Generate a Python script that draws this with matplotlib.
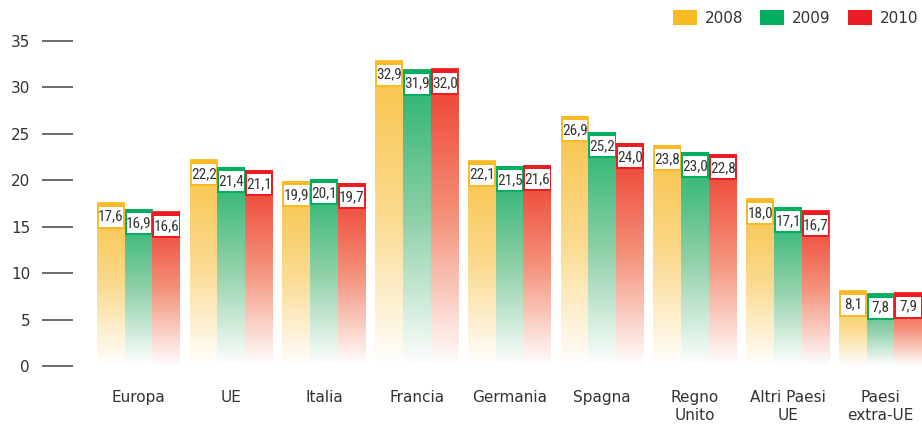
import numpy as np
import matplotlib
matplotlib.use("Agg")
import matplotlib.pyplot as plt
from matplotlib.colors import LinearSegmentedColormap
from matplotlib.patches import Rectangle, Patch
from matplotlib import font_manager

plt.rcParams["font.family"] = ["DejaVu Sans"]

# ── Data ───────────────────────────────────────────────────────────────
categories = ["Europa", "UE", "Italia", "Francia", "Germania", "Spagna",
              "Regno\nUnito", "Altri Paesi\nUE", "Paesi\nextra-UE"]
years = ["2008", "2009", "2010"]
values_2008 = [17.6, 22.2, 19.9, 32.9, 22.1, 26.9, 23.8, 18.0, 8.1]
values_2009 = [16.9, 21.4, 20.1, 31.9, 21.5, 25.2, 23.0, 17.1, 7.8]
values_2010 = [16.6, 21.1, 19.7, 32.0, 21.6, 24.0, 22.8, 16.7, 7.9]
series = [values_2008, values_2009, values_2010]
y_ticks = [0, 5, 10, 15, 20, 25, 30, 35]

# ── Styles ─────────────────────────────────────────────────────────────
# (cap colour, gradient top, gradient middle)
styles = [
    ("#F9BA24", "#F8C346", "#FBDA8E"),
    ("#00AF5F", "#22B26E", "#8ED0A8"),
    ("#EC1C24", "#EE3A2C", "#F4927A"),
]
text_col = "#333333"

# condensed face for the value boxes, if one is installed
names = {f.name for f in font_manager.fontManager.ttflist}
label_font, label_size = "Liberation Sans", 9.5
for cand in ["Roboto Condensed", "Liberation Sans Narrow", "DejaVu Sans Condensed"]:
    if cand in names:
        label_font, label_size = cand, 11
        break

W, H = 922, 426
fig = plt.figure(figsize=(W / 100, H / 100), dpi=100)
ax_left, ax_bottom, ax_top = 73, 366, 41
ax = fig.add_axes([ax_left / W, (H - ax_bottom) / H, (W - ax_left) / W, (ax_bottom - ax_top) / H])

x_min, x_max = -0.706, 8.447
y_max = 35
px_x = (x_max - x_min) / (W - ax_left)   # data units per pixel
px_y = y_max / (ax_bottom - ax_top)

bar_w = 0.2987
x = np.arange(len(categories))
grad = np.linspace(0, 1, 256).reshape(-1, 1)

for s, (vals, (cap, top, mid)) in enumerate(zip(series, styles)):
    cmap = LinearSegmentedColormap.from_list(f"g{s}", ["#FFFFFF", mid, top])
    for i, v in enumerate(vals):
        x0 = x[i] + (s - 1) * bar_w - bar_w / 2
        # gradient body
        ax.imshow(grad, cmap=cmap, extent=(x0, x0 + bar_w, 0, v), origin="lower",
                  aspect="auto", interpolation="bilinear", zorder=2)
        # solid top band around the label
        band = 26 * px_y
        ax.add_patch(Rectangle((x0, v - band), bar_w, band, color=cap,
                               lw=0, zorder=3))
        # white label box
        bx0 = x0 + 2 * px_x
        bw = bar_w - 3.5 * px_x
        by1 = v - 4 * px_y
        bh = 20 * px_y
        ax.add_patch(Rectangle((bx0, by1 - bh), bw, bh, color="white",
                               lw=0, zorder=4))
        ax.text(bx0 + bw / 2, by1 - bh / 2, f"{v:.1f}".replace(".", ","),
                ha="center", va="center", fontsize=label_size,
                family=label_font, color=text_col, zorder=5)

ax.set_xlim(x_min, x_max)
ax.set_ylim(0, y_max)
for sp in ax.spines.values():
    sp.set_visible(False)

ax.set_yticks(y_ticks)
ax.set_yticklabels([str(t) for t in y_ticks])
ax.tick_params(axis="y", length=22.3, width=1.1, color="#444444",
               pad=8.6, labelsize=11, labelcolor=text_col)
ax.set_xticks(x)
ax.set_xticklabels(categories, fontsize=11, color=text_col,
                   linespacing=1.3, va="top")
ax.tick_params(axis="x", length=0, pad=17)

# legend
handles = [Patch(facecolor=c[0], edgecolor="none") for c in styles]
fig.legend(handles, years, loc="upper right", ncol=3, frameon=False,
           bbox_to_anchor=(918 / W, 1 - 10 / H), borderpad=0, borderaxespad=0,
           fontsize=11, handlelength=1.57, handleheight=1.18,
           handletextpad=0.52, columnspacing=1.1, labelcolor=text_col)

plt.savefig("out.png", dpi=100)
